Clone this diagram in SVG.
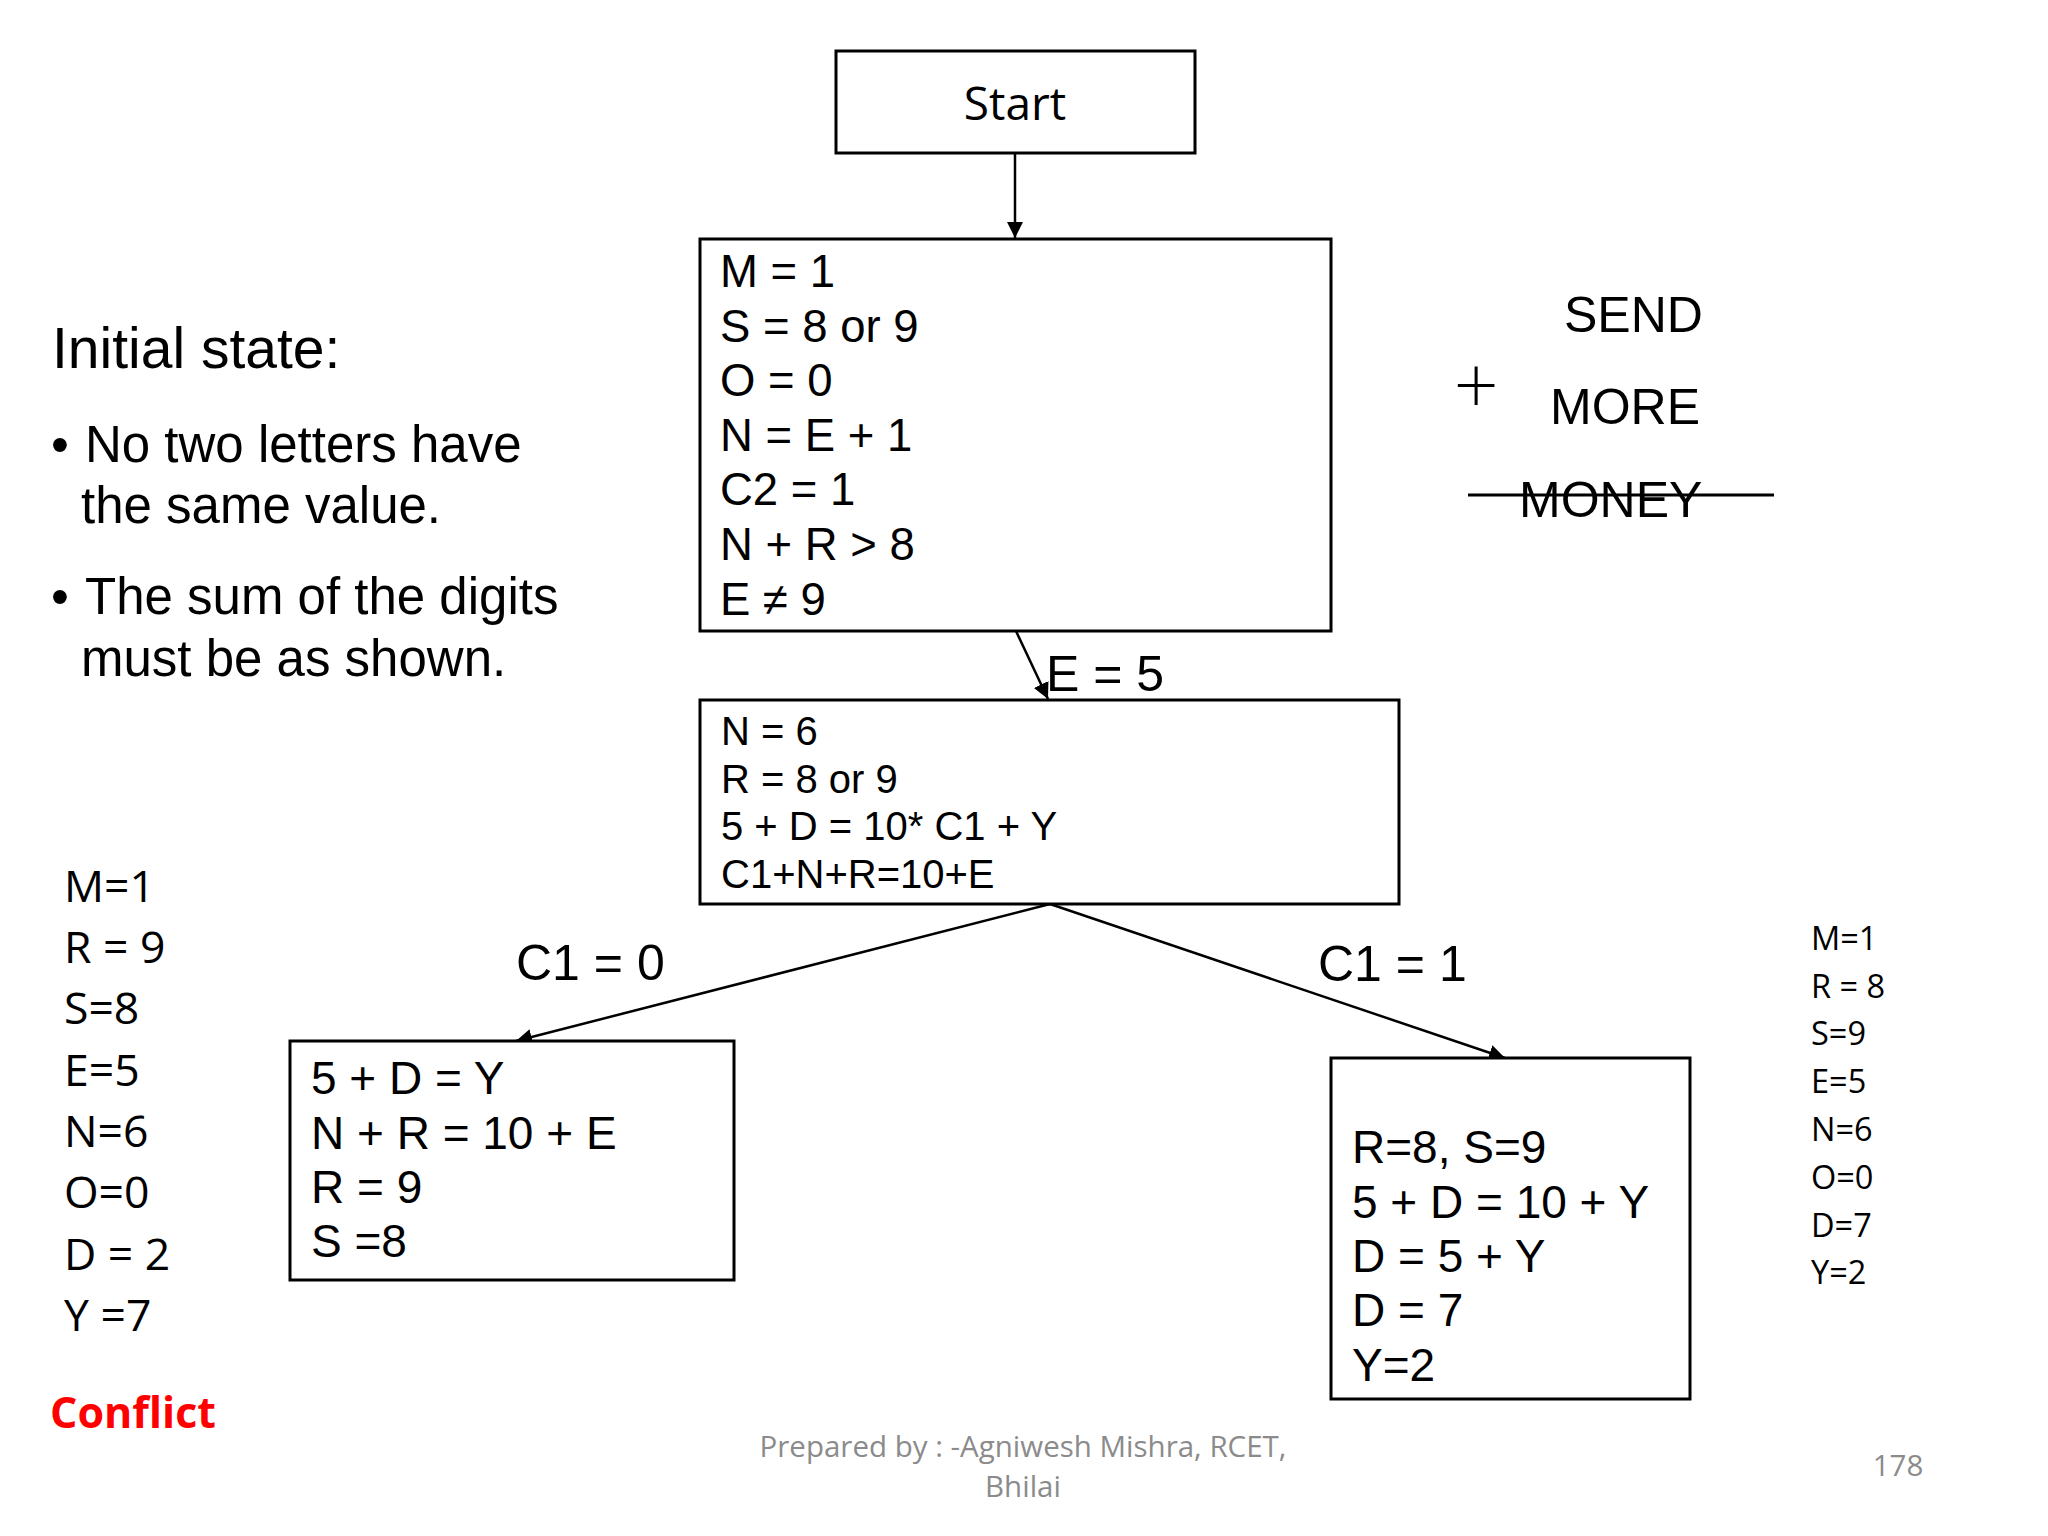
<svg xmlns="http://www.w3.org/2000/svg" width="2048" height="1536" viewBox="0 0 2048 1536">
<style>
.box{fill:#fff;stroke:#000;stroke-width:3}
.ar{font-family:"Liberation Sans",Arial,sans-serif;fill:#000}
.ca{font-family:"Open Sans","Noto Sans",sans-serif;fill:#000}
.ln{stroke:#000;stroke-width:2.5;fill:none}
</style>
<defs>
<marker id="ah" markerUnits="userSpaceOnUse" markerWidth="18" markerHeight="18" refX="16" refY="8" orient="auto">
<path d="M0,0 L16,8 L0,16 z" fill="#000"/>
</marker>
</defs>
<rect width="2048" height="1536" fill="#fff"/>

<g id="connectors">
<line class="ln" x1="1015" y1="153" x2="1015" y2="238" marker-end="url(#ah)"/>
<line class="ln" x1="1016" y1="631" x2="1048" y2="699" marker-end="url(#ah)"/>
<line class="ln" x1="1050" y1="904" x2="516" y2="1041" marker-end="url(#ah)"/>
<line class="ln" x1="1050" y1="904" x2="1505" y2="1058" marker-end="url(#ah)"/>
</g>

<g id="start">
<rect class="box" x="836" y="51" width="359" height="102"/>
<text class="ca" x="1015" y="120" font-size="46" text-anchor="middle">Start</text>
</g>

<g id="constraints">
<rect class="box" x="700" y="239" width="631" height="392"/>
<g class="ar" font-size="45.5">
<text x="720" y="287">M = 1</text>
<text x="720" y="342">S = 8 or 9</text>
<text x="720" y="396">O = 0</text>
<text x="720" y="451">N = E + 1</text>
<text x="720" y="505">C2 = 1</text>
<text x="720" y="560">N + R &gt; 8</text>
<text x="720" y="615">E ≠ 9</text>
</g>
</g>

<g id="label-e5">
<text class="ar" x="1046" y="691" font-size="50">E = 5</text>
</g>

<g id="n6">
<rect class="box" x="700" y="700" width="699" height="204"/>
<g class="ar" font-size="40">
<text x="721" y="745">N = 6</text>
<text x="721" y="793">R = 8 or 9</text>
<text x="721" y="840">5 + D = 10* C1 + Y</text>
<text x="721" y="888">C1+N+R=10+E</text>
</g>
</g>

<g id="label-c10">
<text class="ar" x="516" y="980" font-size="50">C1 = 0</text>
</g>
<g id="label-c11">
<text class="ar" x="1318" y="981" font-size="50">C1 = 1</text>
</g>

<g id="c1zero">
<rect class="box" x="290" y="1041" width="444" height="239"/>
<g class="ar" font-size="46">
<text x="311" y="1094">5 + D = Y</text>
<text x="311" y="1149">N + R = 10 + E</text>
<text x="311" y="1203">R = 9</text>
<text x="311" y="1257">S =8</text>
</g>
</g>

<g id="c1one">
<rect class="box" x="1331" y="1058" width="359" height="341"/>
<g class="ar" font-size="46">
<text x="1352" y="1163">R=8, S=9</text>
<text x="1352" y="1218">5 + D = 10 + Y</text>
<text x="1352" y="1272">D = 5 + Y</text>
<text x="1352" y="1326">D = 7</text>
<text x="1352" y="1381">Y=2</text>
</g>
</g>

<g id="initial-state" class="ar">
<text x="52" y="368" font-size="57">Initial state:</text>
<text x="51" y="462" font-size="51">•</text>
<text x="85" y="462" font-size="51">No two letters have</text>
<text x="81" y="523" font-size="51">the same value.</text>
<text x="51" y="614" font-size="51">•</text>
<text x="85" y="614" font-size="51">The sum of the digits</text>
<text x="81" y="676" font-size="51">must be as shown.</text>
</g>

<g id="puzzle" class="ar">
<text x="1564" y="332" font-size="50">SEND</text>
<text x="1476" y="412" font-size="78" text-anchor="middle" style="font-family:Lato,'Liberation Sans',sans-serif;font-weight:300">+</text>
<text x="1550" y="424" font-size="50">MORE</text>
<text x="1519" y="517" font-size="50">MONEY</text>
<line x1="1468" y1="495" x2="1774" y2="495" stroke="#000" stroke-width="3"/>
</g>

<g id="left-values" class="ca" font-size="44.5">
<text x="64" y="902">M=1</text>
<text x="64" y="963">R = 9</text>
<text x="64" y="1024">S=8</text>
<text x="64" y="1086">E=5</text>
<text x="64" y="1147">N=6</text>
<text x="64" y="1208">O=0</text>
<text x="64" y="1270">D = 2</text>
<text x="64" y="1331">Y =7</text>
</g>
<g id="conflict">
<text x="50" y="1428" font-family="'Open Sans','Noto Sans',sans-serif" font-weight="bold" font-size="43" fill="#ff0000">Conflict</text>
</g>

<g id="right-values" class="ca" font-size="32.5">
<text x="1811" y="950">M=1</text>
<text x="1811" y="998">R = 8</text>
<text x="1811" y="1045">S=9</text>
<text x="1811" y="1093">E=5</text>
<text x="1811" y="1141">N=6</text>
<text x="1811" y="1189">O=0</text>
<text x="1811" y="1237">D=7</text>
<text x="1811" y="1284">Y=2</text>
</g>

<g id="footer" font-family="'Open Sans','Noto Sans',sans-serif" fill="#8b8b8b">
<text x="1023" y="1457" font-size="29.5" text-anchor="middle">Prepared by : -Agniwesh Mishra, RCET,</text>
<text x="1023" y="1497" font-size="29.5" text-anchor="middle">Bhilai</text>
<text x="1898" y="1476" font-size="29.5" text-anchor="middle">178</text>
</g>
</svg>
